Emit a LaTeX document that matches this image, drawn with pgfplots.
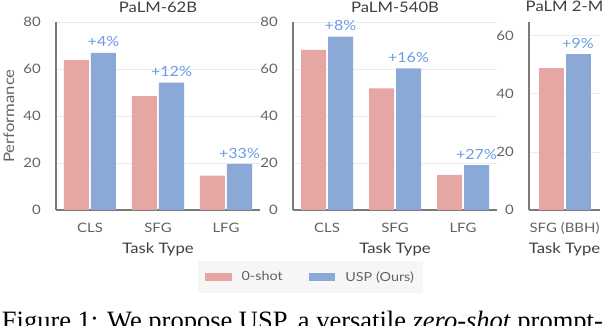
\documentclass[border=0pt]{standalone}
\usepackage{fontspec}
\setmainfont{Lato}[FakeStretch=1.15]
\newfontfamily\capfont{Liberation Serif}
\usepackage{pgfplots}
\pgfplotsset{compat=1.18}

\definecolor{zs}{HTML}{E6A6A4}
\definecolor{usp}{HTML}{8AA9D6}
\definecolor{lab}{HTML}{6C9BE6}
\definecolor{axc}{HTML}{7A7A7A}
\definecolor{txt}{HTML}{5F6368}
\definecolor{dtxt}{HTML}{3C4043}
\definecolor{legbg}{HTML}{F6F6F6}

\pgfplotsset{
  panel/.style={
    scale only axis, anchor=south west,
    height=188pt, ymin=0,
    ybar, bar width=25pt,
    axis x line*=bottom, axis y line*=left,
    axis line style={axc, line width=1.3pt, -},
    tick style={draw=none}, major tick length=0pt,
    ymajorgrids, grid style={black!8, line width=0.6pt},
    /pgf/number format/assume math mode=true,
    ticklabel style={font=\fontsize{13}{15}\selectfont, text=txt},
    yticklabel style={anchor=east, inner xsep=0pt, xshift=-15pt},
    xticklabel style={anchor=base, yshift=-23pt},
    xlabel={Task Type},
    every axis x label/.style={font=\fontsize{14.5}{17}\selectfont, text=dtxt,
      at={(axis description cs:0.5,0)}, anchor=base, yshift=-43.5pt},
    every axis title/.style={font=\fontsize{14.5}{17}\selectfont, text=dtxt,
      at={(axis description cs:0.5,1)}, anchor=base, yshift=10pt},
  },
  gain/.style={fill=usp, draw=none, bar shift=13.5pt,
    point meta=explicit symbolic, nodes near coords,
    nodes near coords style={text=lab, font=\fontsize{14}{16}\selectfont,
      anchor=south, inner sep=0pt, yshift=5.5pt}},
  base/.style={fill=zs, draw=none, bar shift=-13.5pt},
}

\begin{document}
\begin{tikzpicture}
\useasboundingbox (0pt,0pt) rectangle (610pt,326pt);

% PaLM-62B
\begin{axis}[panel, at={(56pt,116pt)}, width=204pt,
  xmin=-0.5, xmax=2.5, ymax=80, ytick={0,20,40,60,80},
  xtick={0,1,2}, xticklabels={CLS,SFG,LFG},
  title={PaLM-62B},
  ylabel={Performance},
  every axis y label/.style={at={(axis description cs:-0.231,0.5)}, rotate=90,
    anchor=center, font=\fontsize{14.5}{17}\selectfont, text=txt},
  legend style={at={(axis description cs:1.2475,-0.356)}, anchor=center,
    fill=legbg, draw=none, legend columns=2,
    font=\fontsize{12.5}{15}\selectfont, text=txt,
    inner xsep=7pt, inner ysep=8pt,
    /tikz/every odd column/.append style={column sep=8pt},
    /tikz/every even column/.append style={column sep=24pt}},
  legend image code/.code={\fill[#1] (0pt,-3.7pt) rectangle (26.6pt,3.7pt);},
]
\addplot[base] coordinates {(0,63.8) (1,48.5) (2,14.6)};
\addplot[gain] coordinates {(0,66.9) [+4\%] (1,54.2) [+12\%] (2,19.6) [+33\%]};
\legend{0-shot, USP (Ours)}
\end{axis}

% PaLM-540B
\begin{axis}[panel, at={(293pt,116pt)}, width=204pt,
  xmin=-0.5, xmax=2.5, ymax=80, ytick={0,20,40,60,80},
  xtick={0,1,2}, xticklabels={CLS,SFG,LFG},
  title={PaLM-540B},
]
\addplot[base] coordinates {(0,68.1) (1,51.8) (2,14.9)};
\addplot[gain] coordinates {(0,73.8) [+8\%] (1,60.3) [+16\%] (2,19.1) [+27\%]};
\end{axis}

% PaLM 2-M
\begin{axis}[panel, at={(529pt,116pt)}, width=71pt,
  xmin=-0.5, xmax=0.5, ymax=64.7, ytick={0,20,40,60},
  xtick={0}, xticklabels={SFG (BBH)},
  title={PaLM 2-M},
]
\addplot[base] coordinates {(0,48.8)};
\addplot[gain] coordinates {(0,53.7) [+9\%]};
\end{axis}

\node[anchor=base west, inner sep=0pt, text=black,
  font=\capfont\fontsize{26.5}{30}\selectfont] at (1.7pt,-3.2pt)
  {Figure 1: We propose USP, a versatile \textit{zero-shot} prompt-};
\end{tikzpicture}
\end{document}
